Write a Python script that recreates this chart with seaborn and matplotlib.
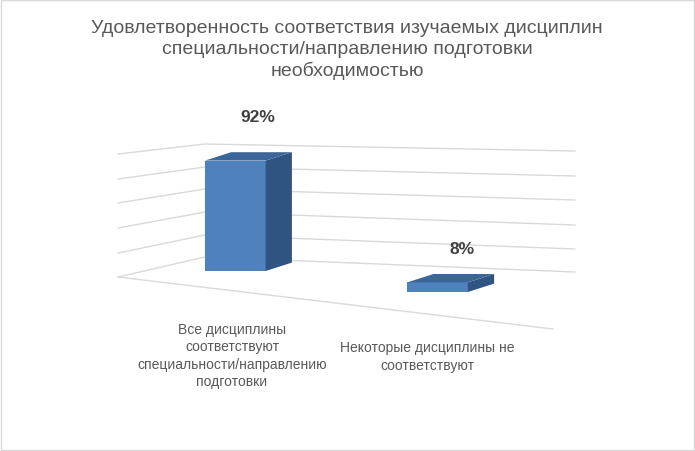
import matplotlib
matplotlib.use("Agg")
import matplotlib.pyplot as plt
import seaborn as sns
import pandas as pd
from matplotlib.patches import Polygon, Rectangle
from matplotlib.lines import Line2D

categories = ["Все дисциплины\nсоответствуют\nспециальности/направлению\nподготовки",
              "Некоторые дисциплины не\nсоответствуют"]
values = [92, 8]
labels = ["92%", "8%"]
title = "Удовлетворенность соответствия изучаемых дисциплин\nспециальности/направлению подготовки\nнеобходимостью"

plt.rcParams["font.family"] = "Liberation Sans"
W, H = 695, 452
fig = plt.figure(figsize=(6.95, 4.52), dpi=100)
fig.patches.append(Rectangle((0.002, 0.002), 0.996, 0.996, transform=fig.transFigure,
                             fill=False, ec="#d9d9d9", lw=1))
def px(x, y):
    return (x / W, 1 - y / H)

grid = "#d9d9d9"
lefts = [278, 254, 229, 204, 180, 155]
corners = [258, 236, 213, 190, 168, 145]
rights = [273, 250, 226, 201, 177, 152]
for l, c, r in zip(lefts, corners, rights):
    xs, ys = zip(px(118, l), px(205, c), px(575, r))
    fig.lines.append(Line2D(xs, ys, transform=fig.transFigure, color=grid, lw=1, zorder=-1))
xs, ys = zip(px(118, 278), px(553, 330))
fig.lines.append(Line2D(xs, ys, transform=fig.transFigure, color=grid, lw=1, zorder=-1))

ax = fig.add_axes([118 / W, 1 - 330 / H, (575 - 118) / W, 200 / H])
ax.patch.set_alpha(0)
scale = 1.2
df = pd.DataFrame({"cat": ["a", "b"], "val": values})
sns.barplot(data=df, x="cat", y="val", ax=ax, color="#4f81bd", saturation=1, width=0.3)
ax.set_xlim(-0.58, 1.68)
ax.set_ylim(0, 200 / scale)
ax.axis("off")
baselines = [(330 - 272) / scale, (330 - 293) / scale]
dx, dy = 0.13, 7.0
for p, b in zip(ax.patches, baselines):
    p.set_y(b)
    x0, w, h = p.get_x(), p.get_width(), p.get_height()
    x1, top = x0 + w, b + h
    ax.add_patch(Polygon([(x1, b), (x1 + dx, b + dy), (x1 + dx, top + dy), (x1, top)],
                         closed=True, fc="#2f5482", ec="none"))
    ax.add_patch(Polygon([(x0, top), (x0 + dx, top + dy), (x1 + dx, top + dy), (x1, top)],
                         closed=True, fc="#3c6699", ec="none"))

fig.text(*px(347, 50), title, ha="center", va="center", fontsize=14, color="#595959",
         linespacing=1.3)
fig.text(*px(258, 118), labels[0], ha="center", va="center", fontsize=12.5,
         fontweight="bold", color="#404040")
fig.text(*px(462, 250), labels[1], ha="center", va="center", fontsize=12.5,
         fontweight="bold", color="#404040")
fig.text(*px(232, 356), categories[0], ha="center", va="center", fontsize=10,
         color="#595959", linespacing=1.3)
fig.text(*px(427, 357), categories[1], ha="center", va="center", fontsize=10,
         color="#595959", linespacing=1.3)
fig.savefig("out.png", dpi=100)
